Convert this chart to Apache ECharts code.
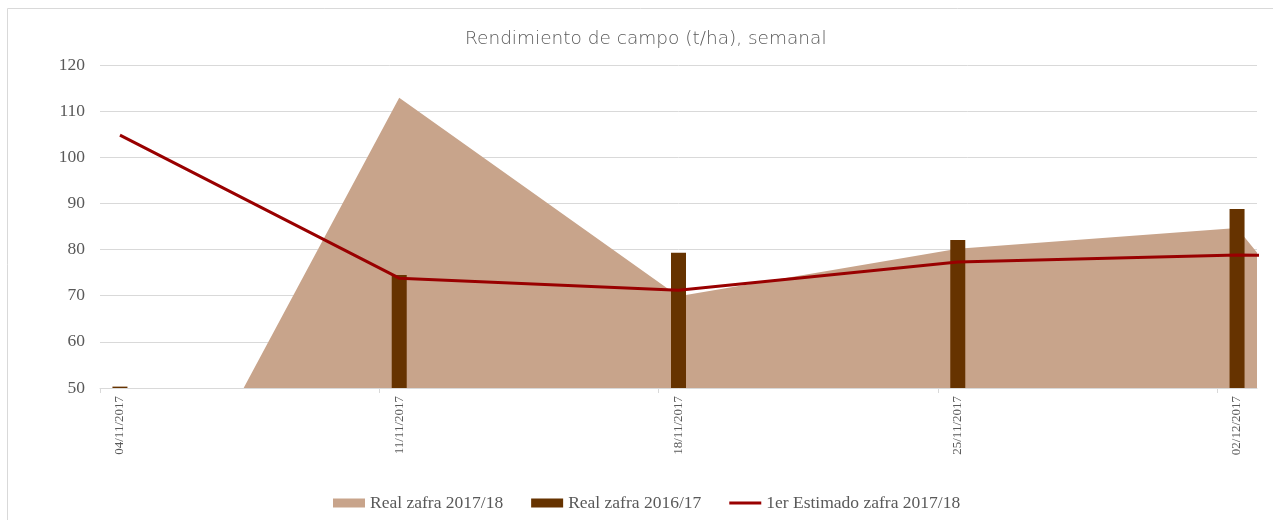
<!DOCTYPE html>
<html>
<head>
<meta charset="utf-8">
<script src="https://cdn.jsdelivr.net/npm/echarts@6/dist/echarts.min.js"></script>
<style>
    html, body { margin: 0; padding: 0; background: #fff; }
    #chart { width: 1273px; height: 520px; }
</style>
</head>
<body>
<div id="chart"></div>
<script>
// semanas (la ultima queda fuera del recorte del grafico)
const dates = ['04/11/2017', '11/11/2017', '18/11/2017', '25/11/2017', '02/12/2017', '09/12/2017'];
const real1718 = [0, 112.9, 69.9, 80.2, 84.7, 10];
const real1617 = [50.3, 74.5, 79.3, 82.1, 88.8];
const estimado1718 = [104.8, 73.8, 71.2, 77.3, 78.8, 78.6];

const DAYS = 7;
const toPoints = values => values.map((v, i) => [i * DAYS, v]);

const labelDays = dates.slice(0, 5).map((d, i) => i * DAYS);
const tickDays = labelDays.map(d => d - 0.5);

const gray = '#595959';
const serif = '"Liberation Serif", "Times New Roman", serif';

const chart = echarts.init(document.getElementById('chart'));

chart.setOption({
    animation: false,
    graphic: [{
        type: 'rect',
        shape: { x: 7.5, y: 8.5, width: 1400, height: 600 },
        style: { fill: 'none', stroke: '#d9d9d9', lineWidth: 1 },
        silent: true
    }],
    title: {
        text: 'Rendimiento de campo (t/ha), semanal',
        left: 460,
        top: 25,
        textStyle: {
            fontFamily: '"DejaVu Sans", sans-serif',
            fontWeight: 200,
            fontSize: 18.5,
            color: gray
        }
    },
    legend: {
        top: 489,
        left: 328,
        itemWidth: 32,
        itemHeight: 9,
        itemGap: 28,
        textStyle: { fontFamily: serif, fontSize: 17.5, color: gray },
        data: [
            { name: 'Real zafra 2017/18', icon: 'rect' },
            { name: 'Real zafra 2016/17', icon: 'rect' },
            { name: '1er Estimado zafra 2017/18', icon: 'path://M0,0 L32,0 L32,3 L0,3 Z' }
        ]
    },
    grid: { left: 100, right: 16, top: 65, bottom: 132 },
    xAxis: {
        type: 'value',
        min: -0.5,
        max: 28.5,
        axisLine: { show: true, lineStyle: { color: '#d9d9d9' } },
        axisTick: {
            show: true,
            customValues: tickDays,
            length: 5,
            lineStyle: { color: '#d9d9d9' }
        },
        axisLabel: {
            customValues: labelDays,
            rotate: 90,
            margin: 8,
            fontFamily: serif,
            fontSize: 13,
            color: gray,
            formatter: v => dates[Math.round(v / DAYS)]
        },
        splitLine: { show: false }
    },
    yAxis: {
        type: 'value',
        min: 50,
        max: 120,
        interval: 10,
        axisLine: { show: false },
        axisTick: { show: false },
        axisLabel: { fontFamily: serif, fontSize: 17.5, color: gray, margin: 15 },
        splitLine: { lineStyle: { color: '#d9d9d9' } }
    },
    series: [
        {
            name: 'Real zafra 2017/18',
            type: 'line',
            data: toPoints(real1718),
            symbol: 'none',
            clip: true,
            itemStyle: { color: '#c8a48b' },
            lineStyle: { width: 0 },
            areaStyle: { color: '#c8a48b', opacity: 1, origin: 'start' },
            z: 1
        },
        {
            name: 'Real zafra 2016/17',
            type: 'bar',
            data: toPoints(real1617),
            barWidth: 15,
            itemStyle: { color: '#663300' },
            z: 2
        },
        {
            name: '1er Estimado zafra 2017/18',
            type: 'line',
            data: toPoints(estimado1718),
            symbol: 'none',
            clip: true,
            itemStyle: { color: '#990000' },
            lineStyle: { color: '#990000', width: 3 },
            z: 3
        }
    ]
});
</script>
</body>
</html>
